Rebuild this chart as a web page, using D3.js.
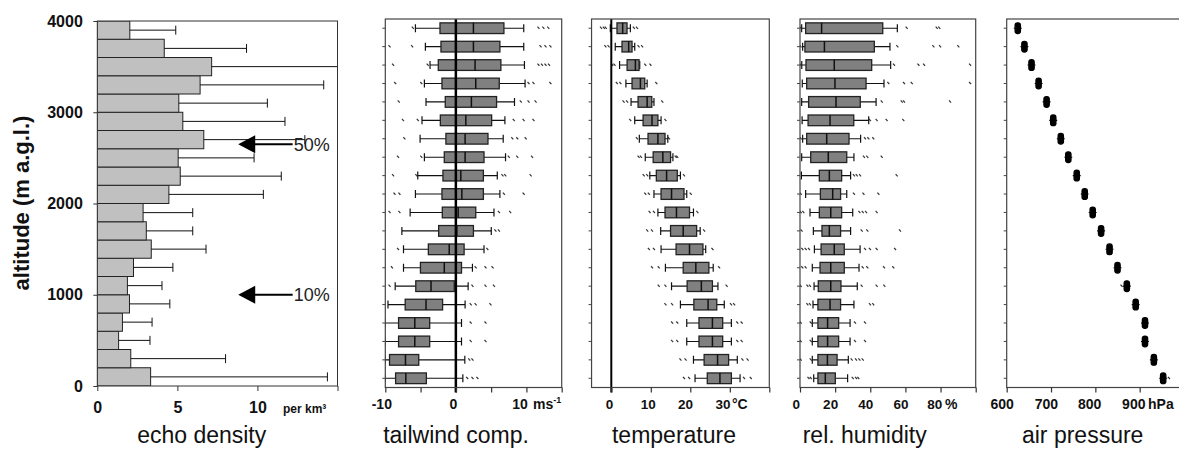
<!DOCTYPE html>
<html><head><meta charset="utf-8">
<script src="https://cdn.jsdelivr.net/npm/d3@7/dist/d3.min.js"></script>
<style>
html,body{margin:0;padding:0;background:#fff;}
svg{display:block;font-family:"Liberation Sans",Arial,sans-serif;}
</style></head>
<body>
<svg id="chart" width="1179" height="450"></svg>
<script>
// ---------- DATA (all arrays ordered from lowest altitude bin upward) ----------
const binStart = [0,200,400,600,800,1000,1200,1400,1600,1800,2000,2200,2400,2600,2800,3000,3200,3400,3600,3800];
const binSize = 200;

// echo density (per km^3): mean and upper error bar
const echoMean = [3.33,2.09,1.33,1.57,2.01,1.88,2.26,3.37,3.06,2.86,4.47,5.18,5.05,6.65,5.34,5.09,6.42,7.14,4.18,2.03];
const echoErr  = [14.37,8.01,3.29,3.42,4.53,4.04,4.72,6.79,5.96,5.96,10.37,11.49,9.79,12.96,11.72,10.62,14.14,16.5,9.32,4.9];

// migration share annotations
const arrowAlt = [2650, 1000];
const arrowLabel = ["50%", "10%"];
const arrowTip = 8.8, arrowTail = 12.2;

// tailwind component (m/s)
const windLow  = [-10,-10,-10,-10,-9.62,-8.6,-7.42,-7.42,-7.65,-6.48,-5.73,-5.4,-4.46,-5.07,-4.8,-4.23,-4.46,-3.66,-4.32,-5.73];
const windQ1   = [-8.54,-9.4,-8.12,-8.12,-7.18,-5.68,-5.02,-3.9,-2.44,-1.92,-1.97,-1.83,-1.64,-1.41,-2.2,-1.5,-1.97,-2.49,-2.11,-2.25];
const windMed  = [-7.09,-7.14,-5.82,-5.82,-4.23,-3.52,-1.64,-0.94,0.14,0.33,0.85,0.7,1.31,1.31,1.41,2.2,2.82,2.72,2.49,2.49];
const windQ3   = [-4.18,-5.26,-3.71,-3.71,-1.88,-0.23,0.8,1.17,2.49,2.82,3.9,3.9,3.99,4.55,5.07,5.77,6.15,6.38,6.24,6.81];
const windHigh = [0.99,1.27,0.8,0.8,1.31,1.74,2.35,3.99,5.02,5.4,6.24,5.87,7.04,6.71,6.95,8.31,9.81,9.72,9.62,9.62];
const windOut  = [[1.6,2.35,3.05],[1.9,2.35],[2.1,4.2],[2.1,4.2],[2.1,2.8,4.9],[-9.4,2.35,4.2,5.4],[-9.06,2.8,4.2,5.2],
  [-8.2,4.46],[5.6,6.1],[-9.4,-8.0,6.1,7.7],[-8.7,-8.0,6.8,9.6],[-8.9,-5.6,6.6,7.0,10.6],[-8.2,-4.9,7.5,8.7,10.8],
  [-7.3,8.0,8.7,9.9],[-7.5,-5.4,8.2,9.6,11.0],[-8.1,9.2,10.3,11.3],[-8.6,-4.9,10.3,11.0,13.4],[-8.9,-4.0,11.7,12.2,12.7,13.2],
  [-9.4,-6.2,12.0,12.7,13.4],[-6.1,11.7,12.4,13.1]];

// temperature (°C)
const tempLow  = [21.2,20.8,19.1,19.1,17.5,15.25,13.7,12.6,12.5,11.8,10.8,9.75,8.6,7.1,5.93,5.0,3.7,2.1,1.0,-0.25];
const tempQ1   = [24.3,23.5,22.2,22.2,20.9,19.2,18.2,16.4,15.0,13.6,12.6,11.4,10.6,9.3,8.05,6.78,5.25,4.0,2.71,1.44];
const tempMed  = [27.5,26.9,25.6,25.6,24.5,22.8,21.4,19.8,18.2,16.5,15.25,14.0,13.05,11.8,10.3,9.07,7.37,6.1,4.4,2.88];
const tempQ3   = [30.4,29.7,28.2,28.2,26.7,25.6,24.7,23.2,21.6,19.8,18.4,16.7,15.0,13.6,11.8,10.25,8.47,7.03,5.25,3.98];
const tempHigh = [32.6,31.9,30.4,30.4,28.6,27.0,25.8,23.9,22.5,20.8,19.1,17.5,15.6,14.3,12.6,10.8,9.07,7.2,5.93,4.83];
const tempOut  = [[18.4,19.7,33.6,35.3],[17.5,18.8,33.2,34.5],[15.4,16.7,31.9,33.0],[15.4,16.7,31.9,33.0],[13.7,15.4,30.3,31.1],
  [12.0,13.7,29.2],[10.3,12.0,27.3],[9.5,10.8,25.6],[9.1,10.3,23.5],[9.7,10.8,21.8],[8.6,9.5,20.1],[8.2,9.1,18.4],
  [6.9,7.5,16.3,16.7],[6.5,14.6],[4.8,13.7],[3.1,4.0,12.9],[1.4,2.3,11.4],[0.2,0.8,8.6,9.9],[-1.5,-0.7,6.9,7.8],[-2.6,-1.9,-1.4,5.7,6.5]];

// relative humidity (%)
const humLow  = [7.8,7.0,7.0,7.0,7.4,8.0,7.0,8.2,7.6,5.7,3.2,0.8,0.95,1.5,1.2,0.95,1.3,1.0,1.5,0.95];
const humQ1   = [10.2,10.2,10.2,10.2,10.2,10.4,11.4,12.0,12.5,11.0,11.6,11.0,6.1,3.8,4.6,4.9,3.8,3.4,2.8,3.2];
const humMed  = [14.4,15.6,15.7,15.7,17.1,17.5,17.5,19.5,16.7,17.5,18.6,16.7,16.1,15.2,17.1,20.5,19.9,19.5,13.9,12.3];
const humQ3   = [20.1,21.1,22.0,22.0,23.1,23.3,25.2,25.2,23.1,23.7,23.1,23.7,26.6,27.9,30.6,34.3,37.6,40.8,42.3,47.1];
const humHigh = [27.1,27.5,28.5,28.5,30.7,32.6,33.6,34.2,28.8,30.0,26.6,28.8,30.7,34.5,39.1,43.3,47.8,51.6,51.2,55.4];
const humOut  = [[4.8,6.1,30,31.9,33.2],[0.4,6.1,29.4,31.9,33.8,35.7],[0.4,6.1,31.3,37.0],[0.4,6.1,31.3,37.0],[4.2,5.7,39.8,41.7],
  [0.4,4.2,5.7,35.1,43.6,48.0],[1.3,3.2,35.7,38.3,47.8,53.1],[1.3,3.2,5.1,37.0,39.8,43.6,54.1],[0.9,35.1,38.3,56.9],
  [0.4,1.9,33.8,35.7,37.6,43.6],[0.4,30.7,36.1,44.6],[30.7,32.3,34.2,55.0],[36.4,38.3,46.5],[0.4,37.0,38.9,41.7],
  [39.8,43.6,49.3,58.8],[46.5,57.9,59.2,85.4],[50.3,59.2,63.6,96.8],[0.3,53.5,67.4,70.6,96.8],[0.3,55.4,75.9,79.7,90.1],[0.3,60.7,77.8,79.3]];

// air pressure (hPa)
const presLow  = [944,923,903,903,882,862,841,823,804,785,767,749,730,713,696,681,663,647,631,616];
const presQ1   = [947,926,906,906,885,865,844,826,807,788,770,752,733,716,699,684,666,650,634,619];
const presMed  = [953,932,912,912,891,871,850,832,813,794,776,758,739,722,705,690,672,656,640,625];
const presQ3   = [959,938,918,918,897,877,856,838,819,800,782,764,745,728,711,696,678,662,646,631];
const presHigh = [962,941,921,921,900,880,859,841,822,803,785,767,748,731,714,699,681,665,649,634];
const presOut  = [[966],[],[],[],[],[859],[],[],[],[],[],[],[],[],[],[],[],[],[],[]];

// tick labels
const echoTicks = [0,5,10,15], echoLabels = ["0","5","10",""];
const altTicks = [0,1000,2000,3000,4000];
const windTicks = [-10,-5,0,5,10,15], windLabels = ["-10","","0","","10",""];
const tempTicks = [0,10,20,30,40], tempLabels = ["0","10","20","30",""];
const humTicks = [0,20,40,60,80,100], humLabels = ["0","20","40","60","80",""];
const presTicks = [600,700,800,900,1000], presLabels = ["600","700","800","900",""];

// ---------- DRAWING ----------
const svg = d3.select("#chart");
const defs = svg.append("defs");
const FONT = '"Liberation Sans",Arial,sans-serif';
const rows = binStart.map(String);

// ---- Panel 1: echo density ----
const p1 = {x0:97.3, x1:337.5, y0:21, y1:386};
const xEcho = d3.scaleLinear().domain([0,15]).range([p1.x0,p1.x1]);
const yAlt = d3.scaleLinear().domain([0,4000]).range([p1.y1,p1.y0]);
const g1 = svg.append("g");
defs.append("clipPath").attr("id","clip1")
  .append("rect").attr("x",p1.x0).attr("y",p1.y0).attr("width",p1.x1-p1.x0).attr("height",p1.y1-p1.y0);

const gb = g1.append("g").attr("clip-path","url(#clip1)");
gb.selectAll("rect.bar").data(echoMean).join("rect").attr("class","bar")
  .attr("x", xEcho(0))
  .attr("y", (d,i)=>yAlt(binStart[i]+binSize))
  .attr("width", d=>xEcho(d)-xEcho(0))
  .attr("height", (d,i)=>yAlt(binStart[i])-yAlt(binStart[i]+binSize))
  .attr("fill","#c0c0c0").attr("stroke","#222").attr("stroke-width",1);
gb.selectAll("line.err").data(echoErr).join("line").attr("class","err")
  .attr("x1",(d,i)=>xEcho(echoMean[i])).attr("x2",d=>xEcho(d))
  .attr("y1",(d,i)=>yAlt(binStart[i]+binSize/2)).attr("y2",(d,i)=>yAlt(binStart[i]+binSize/2))
  .attr("stroke","#111").attr("stroke-width",1);
gb.selectAll("line.cap").data(echoErr).join("line").attr("class","cap")
  .attr("x1",d=>xEcho(d)).attr("x2",d=>xEcho(d))
  .attr("y1",(d,i)=>yAlt(binStart[i]+binSize/2)-4.5).attr("y2",(d,i)=>yAlt(binStart[i]+binSize/2)+4.5)
  .attr("stroke","#111").attr("stroke-width",1);

g1.append("rect").attr("x",p1.x0).attr("y",p1.y0).attr("width",p1.x1-p1.x0).attr("height",p1.y1-p1.y0)
  .attr("fill","none").attr("stroke","#333").attr("stroke-width",1);

const ax1 = g1.append("g").attr("transform",`translate(0,${p1.y1})`)
  .call(d3.axisBottom(xEcho).tickValues(echoTicks).tickFormat((d,i)=>echoLabels[i]).tickSize(5).tickPadding(11));
const ay1 = g1.append("g").attr("transform",`translate(${p1.x0},0)`)
  .call(d3.axisLeft(yAlt).tickValues(altTicks).tickFormat(d3.format("d")).tickSize(4).tickPadding(10.5));
[ax1, ay1].forEach(a=>{
  a.select(".domain").remove();
  a.selectAll("line").attr("stroke","#333");
  a.selectAll("text").attr("font-family",FONT).attr("font-size",16).attr("font-weight","bold").attr("fill","#111");
});
g1.append("text").attr("x",283).attr("y",413).attr("font-size",12).attr("font-weight","bold")
  .attr("font-family",FONT).attr("fill","#111").text("per km³");

arrowAlt.forEach((a,i)=>{
  const y = yAlt(a), xt = xEcho(arrowTip), xe = xEcho(arrowTail);
  g1.append("path").attr("d",`M${xt},${y} L${xt+17},${y-9} L${xt+17},${y+9} Z`).attr("fill","#000");
  g1.append("line").attr("x1",xt+16).attr("x2",xe).attr("y1",y).attr("y2",y).attr("stroke","#000").attr("stroke-width",2);
  g1.append("text").attr("x",xe+1).attr("y",y+6.5).attr("font-size",18).attr("font-family",FONT)
    .attr("fill","#222").text(arrowLabel[i]);
});

svg.append("text").attr("transform","translate(29,203) rotate(-90)").attr("text-anchor","middle")
  .attr("font-size",22).attr("font-weight","bold").attr("font-family",FONT).attr("fill","#111")
  .text("altitude (m a.g.l.)");
svg.append("text").attr("x",201.7).attr("y",443).attr("text-anchor","middle")
  .attr("font-family",FONT).attr("font-size",23).attr("fill","#111").text("echo density");

// ---- Box panels ----
const PY0 = 19, PY1 = 387.5;
const yBand = d3.scaleBand().domain(rows.slice().reverse()).range([PY0,PY1]).padding(0);
const boxH = yBand.bandwidth()*0.58;

function boxPanel(cfg){
  const g = svg.append("g");
  const x = d3.scaleLinear().domain(cfg.domain).range([cfg.x0,cfg.x1]);
  const cy = i => yBand(rows[i]) + yBand.bandwidth()/2;
  const clipId = "clip"+cfg.id;
  defs.append("clipPath").attr("id",clipId)
    .append("rect").attr("x",cfg.x0).attr("y",PY0).attr("width",cfg.x1-cfg.x0).attr("height",PY1-PY0);
  const gc = g.append("g").attr("clip-path",`url(#${clipId})`);

  cfg.out.forEach((arr,i)=>{
    gc.selectAll(null).data(arr).join("path")
      .attr("d",d=>`M${x(d)-1},${cy(i)-1.5} L${x(d)+1},${cy(i)+0.7}`)
      .attr("stroke","#333").attr("stroke-width",1.2);
  });
  const idx = d3.range(rows.length);
  const wc = "#111";
  gc.selectAll("line.wl").data(idx).join("line")
    .attr("x1",i=>x(cfg.low[i])).attr("x2",i=>x(cfg.q1[i])).attr("y1",cy).attr("y2",cy)
    .attr("stroke",wc).attr("stroke-width",1.1);
  gc.selectAll("line.wh").data(idx).join("line")
    .attr("x1",i=>x(cfg.q3[i])).attr("x2",i=>x(cfg.high[i])).attr("y1",cy).attr("y2",cy)
    .attr("stroke",wc).attr("stroke-width",1.1);
  if (cfg.caps!==false){
    gc.selectAll("line.cl").data(idx).join("line")
      .attr("x1",i=>x(cfg.low[i])).attr("x2",i=>x(cfg.low[i])).attr("y1",i=>cy(i)-4).attr("y2",i=>cy(i)+4)
      .attr("stroke","#111").attr("stroke-width",1.2);
    gc.selectAll("line.ch").data(idx).join("line")
      .attr("x1",i=>x(cfg.high[i])).attr("x2",i=>x(cfg.high[i])).attr("y1",i=>cy(i)-4).attr("y2",i=>cy(i)+4)
      .attr("stroke","#111").attr("stroke-width",1.2);
  }
  gc.selectAll("rect.box").data(idx).join("rect")
    .attr("x",i=>x(cfg.q1[i])).attr("width",i=>x(cfg.q3[i])-x(cfg.q1[i]))
    .attr("y",i=>cy(i)-boxH/2).attr("height",boxH)
    .attr("rx",cfg.rx||0)
    .attr("fill",cfg.fill).attr("stroke",cfg.stroke).attr("stroke-width",1.3);
  if (cfg.median!==false){
    gc.selectAll("line.med").data(idx).join("line")
      .attr("x1",i=>x(cfg.med[i])).attr("x2",i=>x(cfg.med[i]))
      .attr("y1",i=>cy(i)-boxH/2).attr("y2",i=>cy(i)+boxH/2)
      .attr("stroke","#111").attr("stroke-width",1.5);
  }
  if (cfg.zero!==undefined){
    g.append("line").attr("x1",x(cfg.zero)).attr("x2",x(cfg.zero)).attr("y1",PY0).attr("y2",PY1+5)
      .attr("stroke","#000").attr("stroke-width",cfg.zeroW);
  }
  g.append("rect").attr("x",cfg.x0).attr("y",PY0).attr("width",cfg.x1-cfg.x0).attr("height",PY1-PY0)
    .attr("fill","none").attr("stroke","#444").attr("stroke-width",1.2);
  const al = g.append("g").attr("transform",`translate(${cfg.x0},0)`)
    .call(d3.axisLeft(yBand).tickSize(3).tickFormat(""));
  al.select(".domain").remove();
  al.selectAll("line").attr("stroke","#444");
  const ab = g.append("g").attr("transform",`translate(0,${PY1})`)
    .call(d3.axisBottom(x).tickValues(cfg.ticks).tickFormat((d,i)=>cfg.labels[i]).tickSize(5).tickPadding(6.5));
  ab.select(".domain").remove();
  ab.selectAll("line").attr("stroke","#333").attr("stroke-width",1.2);
  ab.selectAll("text").attr("font-family",FONT).attr("font-size",cfg.fs).attr("font-weight","bold")
    .attr("fill","#111").attr("dx",(d,i)=>cfg.labelDx[i]);
  const u = g.append("text").attr("x",cfg.unitX).attr("y",409).attr("font-family",FONT)
    .attr("font-size",14).attr("font-weight","bold").attr("fill","#111").text(cfg.unit);
  if (cfg.unitSup) u.append("tspan").attr("dy",-6).attr("font-size",9).text(cfg.unitSup);
  svg.append("text").attr("x",cfg.titleX).attr("y",443).attr("text-anchor","middle")
    .attr("font-family",FONT).attr("font-size",23).attr("fill","#111").text(cfg.title);
  return x;
}

boxPanel({id:2, x0:385.3, x1:561.7, domain:[-10,15], low:windLow, q1:windQ1, med:windMed, q3:windQ3, high:windHigh, out:windOut,
  fill:"#808080", stroke:"#222", zero:0, zeroW:2.5, ticks:windTicks, labels:windLabels, fs:14, labelDx:[-4,0,-3,0,-7,0],
  unit:"ms", unitSup:"-1", unitX:533, title:"tailwind comp.", titleX:456});
boxPanel({id:3, x0:591.55, x1:769.3, domain:[-5,40], low:tempLow, q1:tempQ1, med:tempMed, q3:tempQ3, high:tempHigh, out:tempOut,
  fill:"#808080", stroke:"#222", zero:0, zeroW:2, ticks:tempTicks, labels:tempLabels, fs:13.5, labelDx:[-2.3,-3,-5.3,-7.3,0],
  unit:"°C", unitX:732, title:"temperature", titleX:674});
boxPanel({id:4, x0:800, x1:975.7, domain:[0,100], low:humLow, q1:humQ1, med:humMed, q3:humQ3, high:humHigh, out:humOut,
  fill:"#808080", stroke:"#222", ticks:humTicks, labels:humLabels, fs:13.5, labelDx:[-4.3,-5,-5,-5,-6.4,0],
  unit:"%", unitX:945, title:"rel. humidity", titleX:864.7});
boxPanel({id:5, x0:1006.7, x1:1184, domain:[600,1000], low:presLow, q1:presQ1, med:presMed, q3:presQ3, high:presHigh, out:presOut,
  fill:"#000", stroke:"#000", rx:2.5, caps:false, median:false, ticks:presTicks, labels:presLabels, fs:14, labelDx:[-5,-5.2,-6.3,-6.4,0],
  unit:"hPa", unitX:1148, title:"air pressure", titleX:1082.7});
</script>
</body></html>
